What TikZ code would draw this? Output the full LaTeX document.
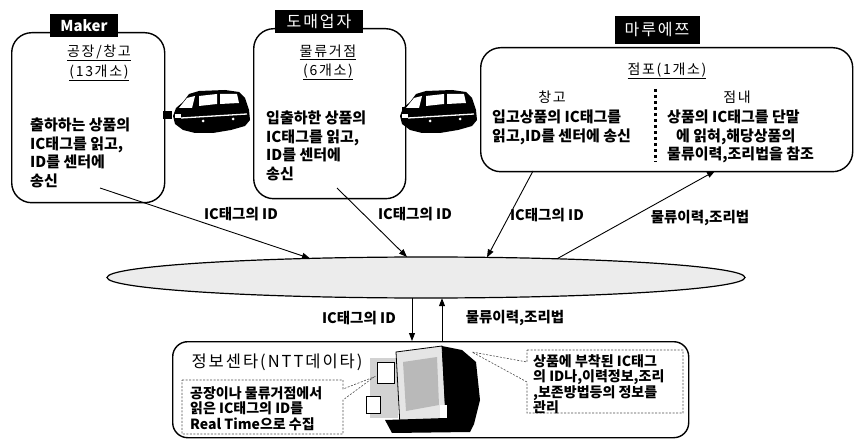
\documentclass[tikz,border=0pt]{standalone}
\usepackage{fontspec}
\setmainfont{Noto Sans CJK KR}
\newfontfamily\krwide{Noto Sans CJK KR}[LetterSpace=12]
\usetikzlibrary{shapes.geometric,arrows.meta}

\begin{document}
\begin{tikzpicture}[x=1pt,y=-1pt,
  stagebox/.style={draw,line width=1.4pt,inner sep=0pt,anchor=north west},
  tagbox/.style={fill=black,text=white,inner sep=0pt,minimum height=23pt},
  bodytext/.style={anchor=north west,align=left,inner sep=0pt,
    font=\fontsize{15}{18.5}\selectfont\bfseries},
  titletext/.style={inner sep=0pt,font=\krwide\fontsize{14}{16}\selectfont},
  flowlabel/.style={inner sep=0pt,font=\fontsize{14.5}{16}\selectfont\bfseries},
  notetext/.style={anchor=north west,align=left,inner sep=0pt,
    font=\fontsize{14}{15.6}\selectfont\bfseries},
  notebox/.style={draw=black!70,line width=0.6pt,dash pattern=on 2pt off 1.5pt},
  flow/.style={line width=0.9pt,-{Triangle[length=8pt,width=6pt]}},
  van/.pic={
    \fill[black] (0,26) -- (3,18) -- (10,12) -- (16,4) -- (26,1) -- (52,0)
      -- (66,2) -- (72,8) -- (76,20) -- (77,30) -- (72,36) -- (58,40)
      -- (40,43) -- (22,43) -- (10,40) -- (2,34) -- cycle;
    \fill[white] (6,18) -- (14,8) -- (22,6) -- (19,18) -- cycle;
    \fill[white] (26,6) -- (44,4) -- (44,14) -- (26,16) -- cycle;
    \fill[white] (47,4) -- (64,4) -- (66,13) -- (47,14) -- cycle;
    \draw[white,line width=1.3pt] (8,28) -- (74,24);
    \fill[white] (2,24) rectangle (8,28);
    \fill[white] (30,31) circle (1.5pt);
    \fill[white] (60,29) circle (1.5pt);
  }]
\useasboundingbox (0,0) rectangle (855,441);

% ---- supply chain stages ----
\node[stagebox,rounded corners=20pt,minimum width=153pt,minimum height=170pt]
  (maker) at (11,32) {};
\node[stagebox,rounded corners=20pt,minimum width=152pt,minimum height=170pt]
  (whole) at (253,28) {};
\node[stagebox,rounded corners=20pt,minimum width=372pt,minimum height=124pt]
  (store) at (480,47) {};

\node[tagbox,minimum width=68pt,font=\fontsize{15}{16}\selectfont\bfseries]
  (makertag) at (84,25.5) {Maker};
\node[tagbox,minimum width=88pt,font=\krwide\fontsize{16}{16}\selectfont]
  (wholetag) at (319,21.5) {도매업자};
\node[tagbox,minimum width=85pt,minimum height=28pt,font=\krwide\fontsize{16}{16}\selectfont]
  (storetag) at (657,30) {마루에쯔};

% stage 1
\node[titletext] (t1a) at (99,53) {\underline{공장/창고}};
\node[titletext] (t1b) at (99,73) {\underline{(13개소)}};
\node[bodytext] (b1) at (30,118) {출하하는 상품의\\IC태그를 읽고,\\ID를 센터에\\송신};

% stage 2
\node[titletext] (t2a) at (328,52) {\underline{물류거점}};
\node[titletext] (t2b) at (328,72) {\underline{(6개소)}};
\node[bodytext] (b2) at (266,111) {입출하한 상품의\\IC태그를 읽고,\\ID를 센터에\\송신};

% stage 3
\node[titletext] (t3) at (667,71) {\underline{점포(1개소)}};
\node[titletext] (t3l) at (552,97) {창고};
\node[titletext] (t3r) at (737,97) {점내};
\node[bodytext] (b3l) at (492,110) {입고상품의 IC태그를\\읽고,ID를 센터에 송신};
\node[bodytext] (b3r) at (667,110) {상품의 IC태그를 단말\\\hspace*{0.6em}에 읽혀,해당상품의\\물류이력,조리법을 참조};
\draw[line width=3pt,dash pattern=on 3pt off 3pt] (655,89) -- (655,162);

% delivery vans
\fill[black] (163,111) rectangle (172,119);
\pic (van1) at (173,90) {van};
\fill[black] (402,107) rectangle (410,118);
\pic (van2) at (400,90) {van};

% ---- network ----
\node[draw,ellipse,line width=1.2pt,fill=gray!15,inner sep=0pt,
  minimum width=638pt,minimum height=41pt] (net) at (426,277.5) {};

\coordinate (s1) at (100,188);
\coordinate (n1) at (310,258.4);
\coordinate (s2) at (337,188);
\coordinate (n2) at (407,257);
\coordinate (s3) at (533,171);
\coordinate (n3) at (487,257.4);
\coordinate (n4) at (557,258.8);
\coordinate (s4) at (715,171);
\draw[flow] (s1) -- (n1);
\draw[flow] (s2) -- (n2);
\draw[flow] (s3) -- (n3);
\draw[flow] (n4) -- (s4);

\node[flowlabel] (l1) at (241,214) {IC태그의 ID};
\node[flowlabel] (l2) at (415,214) {IC태그의 ID};
\node[flowlabel] (l3) at (547,215) {IC태그의 ID};
\node[flowlabel] (l4) at (700,218) {물류이력,조리법};

% ---- information center ----
\node[stagebox,rounded corners=15pt,minimum width=516pt,minimum height=96pt]
  (center) at (172,341) {};

\coordinate (nd) at (412,298.2);
\coordinate (cd) at (412,341);
\coordinate (cu) at (442,341);
\coordinate (nu) at (442,298.2);
\draw[flow] (nd) -- (cd);
\draw[flow] (cu) -- (nu);
\node[flowlabel] (l5) at (359,318) {IC태그의 ID};
\node[flowlabel] (l6) at (515,318) {물류이력,조리법};

\node[inner sep=0pt,font=\krwide\fontsize{16.5}{18}\selectfont] (ctitle) at (277,362)
  {정보센타(NTT데이타)};

% computer
\fill[gray!35] (370,358) rectangle (398,418);
\draw[fill=white,line width=0.6pt] (377,362) rectangle (394,383);
\draw[fill=white,line width=0.6pt] (366,396) rectangle (380,413);
\filldraw[fill=gray!20,draw=black,line width=0.8pt]
  (396,352) -- (442,346) -- (446,418) -- (400,426) -- cycle;
\fill[gray!55] (403,362) -- (437,357) -- (439,405) -- (406,411) -- cycle;
\fill[black] (442,346) -- (462,350) -- (476,362) -- (480,400) -- (474,424)
  -- (446,426) -- cycle;
\fill[black] (385,420) -- (446,418) -- (474,424) -- (470,432) -- (392,433) -- cycle;
\fill[white] (440,405) rectangle (447,418);

% callouts
\draw[notebox] (182,380) -- (343,380) -- (343,389) -- (374,377) -- (343,400)
  -- (343,434) -- (182,434) -- cycle;
\node[notetext] (c1) at (190,386) {공장이나 물류거점에서\\읽은 IC태그의 ID를\\Real Time으로 수집};

\draw[notebox] (527,350) -- (683,350) -- (683,413) -- (527,413) -- (527,382)
  -- (472,352) -- (527,362) -- cycle;
\node[notetext] (c2) at (533,354) {상품에 부착된 IC태그\\의 ID나,이력정보,조리\\,보존방법등의 정보를\\관리};
\end{tikzpicture}
\end{document}
